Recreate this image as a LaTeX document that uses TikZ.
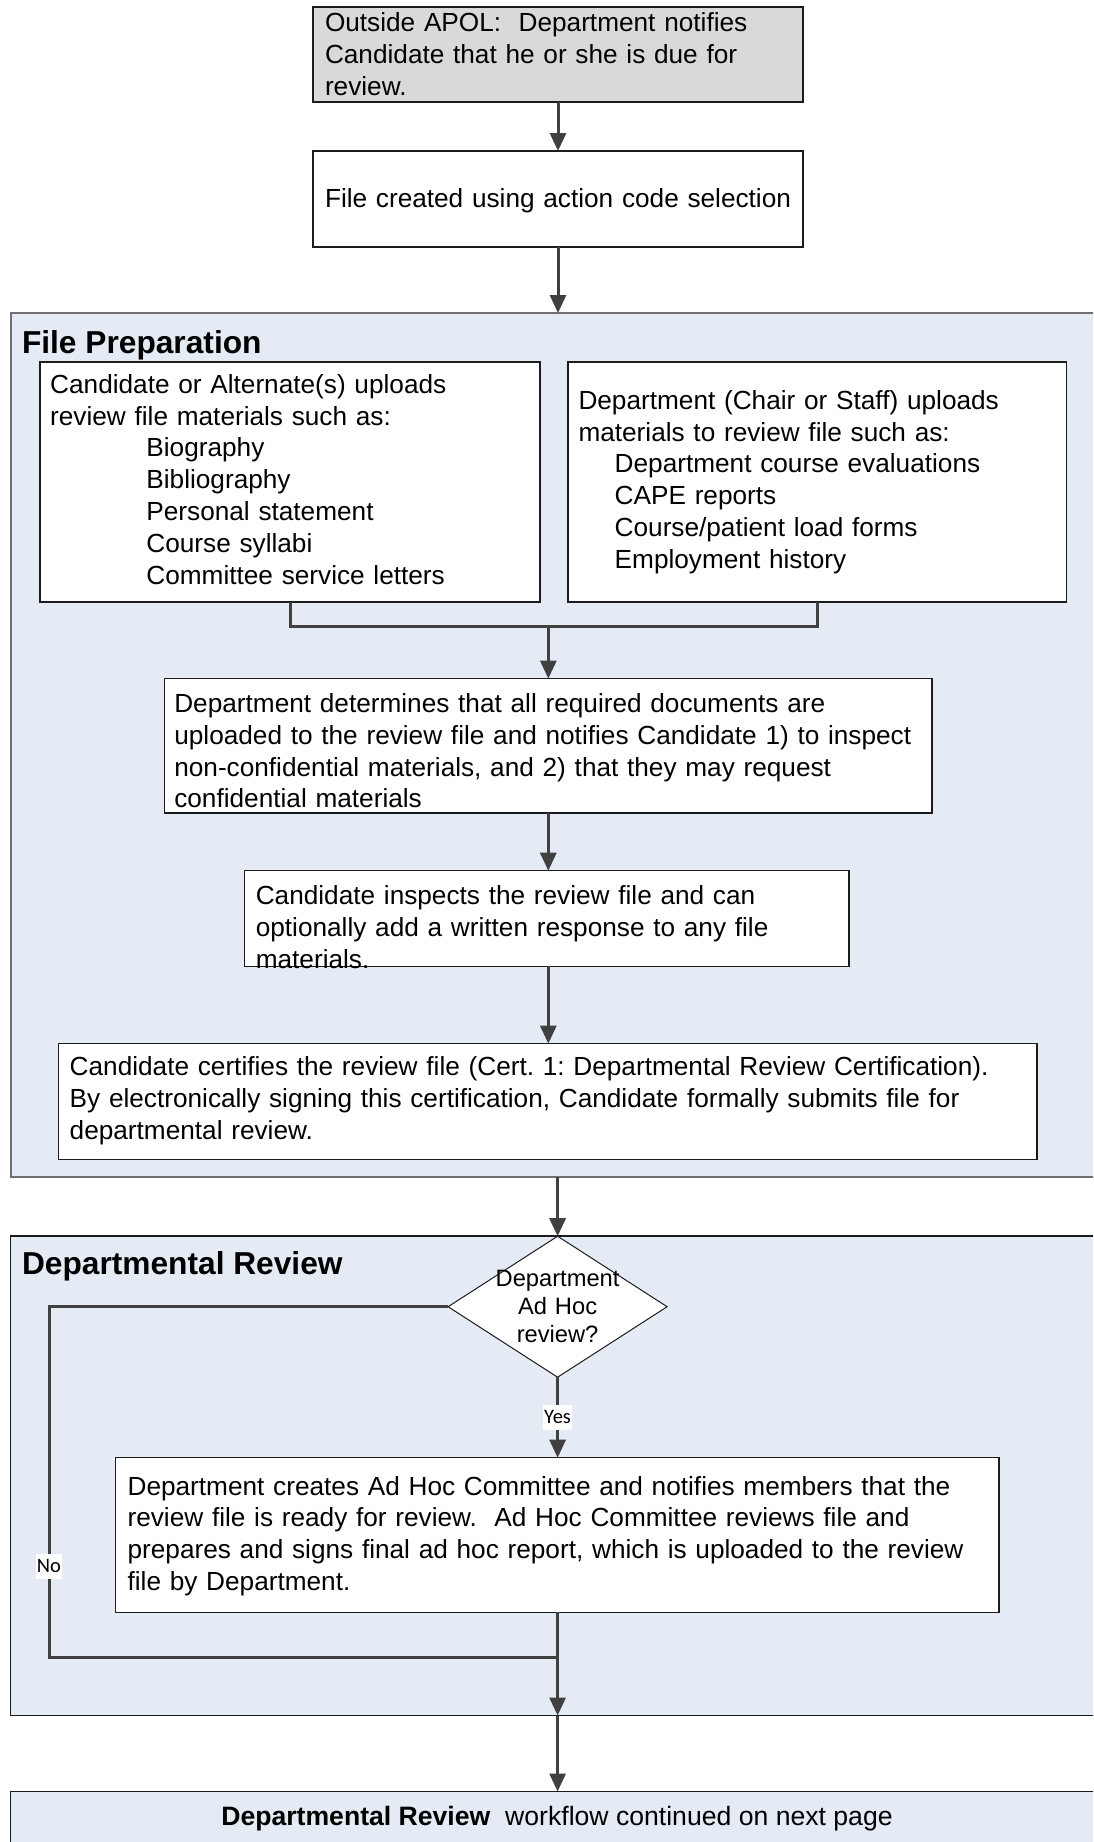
\documentclass[tikz,border=0pt]{standalone}
\usepackage{fontspec}
\setmainfont{Liberation Sans}
\newfontfamily\lblfont{Carlito}
\usetikzlibrary{arrows.meta,shapes.geometric}

\definecolor{lanefill}{RGB}{228,235,245}
\definecolor{startfill}{RGB}{217,217,217}
\definecolor{wire}{RGB}{64,64,64}
\definecolor{laneedge}{RGB}{112,112,112}
\definecolor{boxedge}{RGB}{28,28,28}

\begin{document}
\frenchspacing
\begin{tikzpicture}[x=0.5pt, y=-0.5pt,
  every node/.style={outer sep=0pt},
  lane/.style={rectangle, draw=laneedge, line width=1pt, fill=lanefill, inner sep=0pt},
  lanedark/.style={lane, draw=boxedge, line width=0.8pt},
  stepbox/.style={rectangle, draw=boxedge, line width=0.65pt, fill=white, inner sep=0pt},
  startbox/.style={stepbox, fill=startfill},
  decision/.style={diamond, draw=boxedge, line width=0.5pt, fill=white, inner sep=0pt},
  body/.style={inner sep=0pt, anchor=base west, align=left, text width=#1,
    font=\fontsize{13.1}{15.9}\selectfont},
  lanetitle/.style={inner sep=0pt, anchor=base west,
    font=\bfseries\fontsize{15.85}{19}\selectfont},
  wireline/.style={draw=wire, line width=1.5pt},
  flow/.style={wireline, -{Triangle[length=9pt, width=8pt]}},
  lbl/.style={fill=white, inner xsep=0.5pt, inner ysep=3pt,
    font=\lblfont\fontsize{10.25}{12}\selectfont},
]
% page area (units are pixels, y grows downwards)
\path[use as bounding box, clip] (0,0) rectangle (1093,1842);
\fill[white] (0,0) rectangle (1093,1842);

% ---- swimlane containers ----
\node[lane, minimum width=549.75pt, minimum height=432pt] (prep) at (560.25,745) {};
\node[lanedark, minimum width=549.75pt, minimum height=239.9pt] (dept) at (560.25,1475.6) {};
\node[lanedark, minimum width=549.75pt, minimum height=39.25pt] (next) at (560.25,1830.75) {};

\node[lanetitle] (prepT) at (22,353) {File Preparation};
\node[lanetitle] (deptT) at (22,1274.3) {Departmental Review};

% ---- process boxes ----
\node[startbox, minimum width=245pt, minimum height=47.5pt] (A) at (558,54.5) {};
\node[stepbox, minimum width=245pt, minimum height=48pt] (B) at (558,199) {};
\node[stepbox, minimum width=250pt, minimum height=120pt] (C1) at (290,482) {};
\node[stepbox, minimum width=249.25pt, minimum height=120pt] (C2) at (817.25,482) {};
\node[stepbox, minimum width=383.75pt, minimum height=67.2pt] (D) at (548.25,745.8) {};
\node[stepbox, minimum width=302.15pt, minimum height=47.85pt] (E) at (546.85,918.55) {};
\node[stepbox, minimum width=489.25pt, minimum height=58pt] (F) at (547.75,1101.6) {};
\node[decision, minimum width=109.5pt, minimum height=70.5pt] (H) at (557.6,1306.7) {};
\node[stepbox, minimum width=441.65pt, minimum height=77.3pt] (G) at (557.35,1535) {};

% ---- box texts ----
\node[body=239pt] (At) at (325,31.7)
  {Outside APOL:\ \ Department notifies\\Candidate that he or she is due for\\review.};
\node[body=239pt] (Bt) at (325,207)
  {File created using action code selection};
\node[body=245pt] (C1t) at (50.2,393.3)
  {Candidate or Alternate(s) uploads\\review file materials such as:\\
   \hspace*{48.1pt}Biography\\
   \hspace*{48.1pt}Bibliography\\
   \hspace*{48.1pt}Personal statement\\
   \hspace*{48.1pt}Course syllabi\\
   \hspace*{48.1pt}Committee service letters};
\node[body=243pt] (C2t) at (578.5,409.3)
  {Department (Chair or Staff) uploads\\materials to review file such as:\\
   \hspace*{18.1pt}Department course evaluations\\
   \hspace*{18.1pt}CAPE reports\\
   \hspace*{18.1pt}Course/patient load forms\\
   \hspace*{18.1pt}Employment history};
\node[body=378pt] (Dt) at (174.3,712.5)
  {Department determines that all required documents are\\
   uploaded to the review file and notifies Candidate 1) to inspect\\
   non-confidential materials, and 2) that they may request\\
   confidential materials};
\node[body=296pt] (Et) at (255.8,904.5)
  {Candidate inspects the review file and can\\
   optionally add a written response to any file\\
   materials.};
\node[body=483pt] (Ft) at (69.7,1075.6)
  {Candidate certifies the review file (Cert. 1: Departmental Review Certification).\\
   By electronically signing this certification, Candidate formally submits file for\\
   departmental review.};
\node[inner sep=0pt, anchor=base, align=center, text width=80pt,
  font=\fontsize{11.85}{14}\selectfont] (Ht) at (557.6,1286)
  {Department\\Ad Hoc\\review?};
\node[body=435pt] (Gt) at (127.6,1495)
  {Department creates Ad Hoc Committee and notifies members that the\\
   review file is ready for review.\ \ Ad Hoc Committee reviews file and\\
   prepares and signs final ad hoc report, which is uploaded to the review\\
   file by Department.};
\node[inner sep=0pt, anchor=base, font=\fontsize{13.3}{15.9}\selectfont] (nextT) at (557,1825)
  {\textbf{Departmental Review}\ \ workflow continued on next page};

% ---- connectors ----
\coordinate (join) at (548.3,626);
\coordinate (nobend) at (49,1657.7);

\draw[flow] (A.south) -- (B.north);
\draw[flow] (B.south) -- (B.south |- prep.north);
\draw[wireline] (C1.south) |- (join) -| (C2.south);
\draw[flow] (join) -- (join |- D.north);
\draw[flow] (join |- D.south) -- (join |- E.north);
\draw[flow] (join |- E.south) -- (join |- F.north);
\draw[flow] (H.north |- prep.south) -- (H.north);
\draw[flow] (H.south) -- node[lbl] {Yes} (H.south |- G.north);
\draw[wireline] (H.west) -| node[lbl, pos=0.87] {No} (nobend) -- (H.south |- nobend);
\draw[flow] (H.south |- G.south) -- (H.south |- dept.south);
\draw[flow] (H.south |- dept.south) -- (H.south |- next.north);
\end{tikzpicture}
\end{document}
